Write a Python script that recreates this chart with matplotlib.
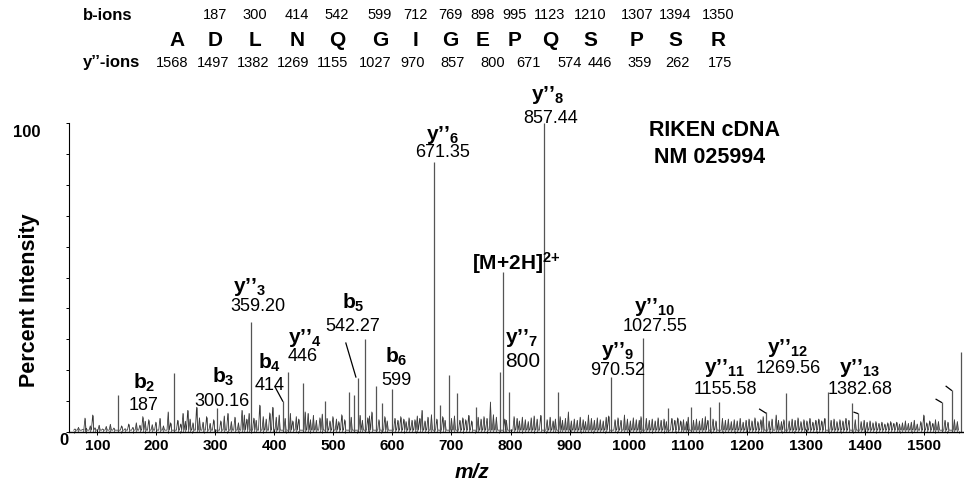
import matplotlib
matplotlib.use('Agg')
import matplotlib.pyplot as plt
from matplotlib.ticker import MultipleLocator

plt.rcParams['font.family'] = ['Liberation Sans', 'DejaVu Sans']
plt.rcParams['mathtext.fontset'] = 'custom'
plt.rcParams['mathtext.rm'] = 'Liberation Sans'
plt.rcParams['mathtext.bf'] = 'Liberation Sans:bold'
plt.rcParams['mathtext.it'] = 'Liberation Sans:italic'

# peptide header
residues = ['A', 'D', 'L', 'N', 'Q', 'G', 'I', 'G', 'E', 'P', 'Q', 'S', 'P', 'S', 'R']
b_ions = ['', '187', '300', '414', '542', '599', '712', '769', '898', '995',
          '1123', '1210', '1307', '1394', '1350']
y_ions = ['1568', '1497', '1382', '1269', '1155', '1027', '970', '857', '800',
          '671', '574', '446', '359', '262', '175']

# main peaks (m/z, % intensity)
peak_mz = [135, 230, 303, 360, 414, 423, 448, 485, 526, 534, 541, 553, 572, 582,
           599, 671, 680, 695, 710, 741, 783, 787, 798, 857, 880, 971, 1025, 1067,
           1105, 1138, 1154, 1233, 1267, 1338, 1379, 1389, 1531, 1548, 1563]
peak_pct = [12, 19, 7.8, 35.6, 10, 19.4, 16, 10, 13, 12, 17.5, 30, 15, 9.4,
            14, 87.4, 8.7, 18.4, 12.6, 8, 19.4, 51.8, 13, 100, 13, 17.8, 30.4, 7.8,
            8, 8, 9.7, 6.5, 12.6, 13, 9.4, 6, 9.7, 13.6, 26]

# small background peaks
noise_peaks = [
    (62, 1.0), (68, 1.5), (75, 0.8), (79, 4.5), (81, 1.2), (88, 2.0), (92, 5.5), (96, 1.4),
    (103, 2.2), (109, 1.0), (115, 1.8), (122, 2.5), (128, 1.3), (141, 2.0), (147, 1.1),
    (153, 2.6), (160, 1.5), (166, 3.0), (172, 2.2), (177, 5.0), (181, 3.5), (187, 4.0),
    (193, 2.4), (199, 3.2), (206, 4.4), (212, 2.0), (220, 6.5), (224, 3.0), (236, 3.8),
    (241, 2.6), (245, 6.0), (249, 3.5), (253, 7.0), (257, 4.2), (262, 3.0), (268, 8.0),
    (273, 4.6), (279, 3.2), (285, 5.0), (291, 2.8), (297, 4.0), (309, 3.6), (315, 5.2),
    (321, 6.0), (327, 3.4), (333, 4.8), (339, 3.0), (345, 7.0), (349, 5.5), (353, 4.2),
    (357, 6.0), (365, 4.5), (369, 3.8), (375, 8.7), (381, 5.0), (386, 4.2), (392, 6.2),
    (397, 8.0), (403, 4.8), (408, 5.5), (418, 4.4), (427, 6.0), (431, 3.6), (437, 5.0),
    (441, 4.2), (452, 6.5), (457, 6.0), (461, 4.0), (466, 5.4), (471, 3.8), (477, 4.6),
    (481, 5.8), (489, 4.4), (494, 3.6), (499, 5.0), (505, 4.2), (509, 3.4), (514, 5.6),
    (519, 4.0), (530, 4.8), (545, 5.4), (549, 3.8), (558, 4.6), (561, 5.2), (565, 6.5),
    (577, 4.0), (587, 5.0), (591, 3.6), (604, 4.4), (609, 3.8), (614, 5.0), (619, 4.2),
    (623, 3.4), (628, 4.6), (633, 3.8), (638, 4.0), (642, 5.2), (646, 4.4), (650, 7.0),
    (655, 3.6), (660, 4.8), (666, 5.6), (675, 4.2), (685, 5.0), (689, 3.8), (700, 4.4),
    (705, 5.2), (714, 3.8), (719, 4.6), (724, 4.0), (729, 5.4), (734, 3.6), (745, 4.8),
    (750, 4.2), (755, 5.0), (760, 4.4), (766, 9.7), (771, 5.6), (776, 4.8), (790, 4.2),
    (793, 3.8), (806, 5.0), (811, 4.4), (815, 3.6), (820, 4.8), (825, 4.0), (830, 3.4),
    (835, 4.6), (840, 5.2), (845, 4.2), (851, 5.4), (862, 4.0), (867, 4.8), (872, 3.6),
    (876, 4.2), (884, 5.0), (888, 3.8), (893, 4.4), (898, 6.5), (903, 3.6), (908, 4.2),
    (913, 3.8), (918, 4.8), (923, 4.0), (927, 3.4), (932, 5.5), (937, 4.4), (942, 3.8),
    (947, 4.6), (952, 4.0), (957, 3.6), (962, 4.8), (966, 5.2), (977, 4.0), (982, 4.6),
    (987, 3.8), (993, 5.5), (998, 4.2), (1003, 3.6), (1008, 4.6), (1013, 4.0), (1018, 3.8),
    (1021, 5.0), (1030, 4.4), (1035, 3.8), (1040, 4.2), (1045, 3.6), (1050, 4.6), (1055, 3.8),
    (1060, 4.2), (1064, 3.4), (1073, 4.4), (1078, 3.8), (1083, 4.6), (1088, 3.6), (1093, 4.0),
    (1098, 3.4), (1101, 4.8), (1110, 3.8), (1115, 4.2), (1120, 3.6), (1125, 4.4), (1130, 5.0),
    (1134, 3.8), (1143, 4.2), (1148, 3.6), (1159, 4.4), (1164, 3.8), (1169, 4.2), (1174, 3.4),
    (1179, 4.0), (1184, 3.6), (1189, 4.4), (1194, 3.2), (1199, 3.8), (1204, 4.2), (1209, 3.6),
    (1214, 4.6), (1219, 3.4), (1224, 4.0), (1228, 5.0), (1238, 3.6), (1243, 4.2), (1250, 5.5),
    (1254, 3.8), (1259, 3.4), (1263, 4.0), (1272, 3.6), (1277, 4.2), (1282, 3.8), (1287, 4.6),
    (1292, 3.4), (1297, 4.0), (1302, 3.6), (1307, 4.4), (1312, 3.2), (1317, 3.8), (1322, 4.2),
    (1327, 3.6), (1332, 4.4), (1343, 3.8), (1348, 4.2), (1353, 3.4), (1358, 4.0), (1363, 3.6),
    (1368, 4.4), (1373, 3.8), (1384, 4.0), (1394, 3.4), (1399, 3.8), (1404, 3.2), (1409, 3.6),
    (1414, 3.0), (1419, 3.4), (1424, 2.8), (1429, 3.2), (1434, 2.6), (1439, 3.0), (1444, 3.4),
    (1449, 2.8), (1454, 3.2), (1459, 2.6), (1464, 3.0), (1469, 3.6), (1474, 2.8), (1479, 3.2),
    (1484, 3.8), (1489, 2.6), (1495, 3.4), (1500, 5.5), (1505, 3.0), (1510, 3.6), (1515, 2.8),
    (1520, 4.0), (1525, 3.4), (1536, 3.8), (1541, 3.2), (1552, 4.0), (1557, 3.4),
]
noise_mz = [p[0] for p in noise_peaks]
noise_pct = [p[1] for p in noise_peaks]

# peak annotations: (ion, subscript, value, ion pos (mz, pct), value pos (mz, pct))
ann = [
    ('b', '2', '187', (179, 15.9), (179, 8.7)),
    ('b', '3', '300.16', (313, 17.8), (311, 10.0)),
    ("y’’", '3', '359.20', (358, 46.9), (372, 40.5)),
    ('b', '4', '414', (392, 22.3), (392, 15.2)),
    ("y’’", '4', '446', (451, 30.4), (448, 24.3)),
    ('b', '5', '542.27', (533, 41.7), (533, 34.0)),
    ('b', '6', '599', (607, 24.3), (607, 16.8)),
    ("y’’", '6', '671.35', (685, 96.1), (685, 90.3)),
    ("y’’", '7', '800', (819, 30.4), (820, 22.7)),
    ("y’’", '8', '857.44', (863, 109.0), (868, 101.6)),
    ("y’’", '9', '970.52', (981, 26.2), (981, 20.0)),
    ("y’’", '10', '1027.55', (1044, 40.5), (1045, 34.0)),
    ("y’’", '11', '1155.58', (1162, 20.7), (1164, 13.6)),
    ("y’’", '12', '1269.56', (1269, 27.2), (1271, 20.4)),
    ("y’’", '13', '1382.68', (1391, 20.7), (1393, 13.6)),
]

fig = plt.figure(figsize=(9.64, 4.87), dpi=100)
ax = fig.add_axes([0.0716, 0.1129, 0.927, 0.6345])

# background drawn as a jagged profile
prof_x, prof_y = [], []
for m, h in zip(noise_mz, noise_pct):
    prof_x += [m - 2, m, m + 2]
    prof_y += [0.6, h, 0.6]
ax.plot(prof_x, prof_y, color='#333333', lw=0.55)
ax.vlines(noise_mz, 0, noise_pct, color='#444444', lw=0.5)
ax.vlines(peak_mz, 0, peak_pct, color='#555555', lw=0.9)

ax.set_xlim(52, 1566)
ax.set_ylim(0, 100)
for s in ['top', 'right']:
    ax.spines[s].set_visible(False)
ax.spines['left'].set_linewidth(0.8)
ax.spines['bottom'].set_linewidth(1.0)

ax.xaxis.set_minor_locator(MultipleLocator(20))
ax.set_xticks(range(100, 1600, 100))
ax.set_xticklabels([str(v) for v in range(100, 1600, 100)], fontsize=11, fontweight='bold')
ax.tick_params(axis='x', which='major', direction='inout', length=4, width=0.7, pad=3)
ax.tick_params(axis='x', which='minor', direction='inout', length=2, width=0.5)
ax.set_yticks(range(0, 101, 10))
ax.set_yticklabels([])
ax.tick_params(axis='y', which='major', direction='out', length=2.5, width=0.7)

ax.text(-0.001, -0.026, '0', transform=ax.transAxes, ha='right', va='center',
        fontsize=12, fontweight='bold')
ax.text(-0.032, 0.97, '100', transform=ax.transAxes, ha='right', va='center',
        fontsize=12, fontweight='bold')

fig.text(30 / 964, 1 - 300 / 487, 'Percent Intensity', rotation=90, ha='center',
         va='center', fontsize=15.5, fontweight='bold')
fig.text(472 / 964, 1 - 472 / 487, 'm/z', ha='center', va='center', fontsize=15,
         fontweight='bold', fontstyle='italic')

for ion, sub, val, p1, p2 in ann:
    if ion == 'b':
        lab = r'$\mathbf{b}_{\mathbf{%s}}$' % sub
    else:
        lab = r'$\mathbf{y’’}_{\mathbf{%s}}$' % sub
    ax.text(p1[0], p1[1], lab, ha='center', va='center', fontsize=15, clip_on=False)
    fs = 15 if val == '800' else 13
    ax.text(p2[0], p2[1], val, ha='center', va='center', fontsize=fs, clip_on=False)

ax.text(810, 54.7, r'$\mathbf{[M{+}2H]}^{\mathbf{2{+}}}$', ha='center', va='center', fontsize=15)
ax.text(1145, 97.7, 'RIKEN cDNA', ha='center', va='center', fontsize=15.5, fontweight='bold')
ax.text(1137, 89.0, 'NM 025994', ha='center', va='center', fontsize=15.5, fontweight='bold')

# leader lines
leader = [((521, 28.8), (538, 17.8)), ((401, 14.6), (414, 10.0)),
          ((1222, 7.4), (1232, 6.2)), ((1382, 6.4), (1388, 6.0)),
          ((1521, 10.6), (1530, 9.6)), ((1538, 14.8), (1547, 13.5))]
for a, b in leader:
    ax.plot([a[0], b[0]], [a[1], b[1]], color='black', lw=0.9)

# header
col_x = [177, 215, 255, 297, 337, 380, 415, 450, 483, 515, 550, 590, 637, 675, 718]
yx = [172, 213, 253, 293, 333, 375, 413, 453, 493, 528, 570, 600, 640, 677, 720]
fig.text(83 / 964, 1 - 15 / 487, 'b-ions', ha='left', va='center', fontsize=12,
         fontweight='bold')
fig.text(83 / 964, 1 - 63 / 487, 'y’’-ions', ha='left', va='center', fontsize=12,
         fontweight='bold')
for i in range(len(residues)):
    fig.text(col_x[i] / 964, 1 - 40 / 487, residues[i], ha='center', va='center',
             fontsize=15, fontweight='bold')
    if b_ions[i]:
        fig.text(col_x[i] / 964, 1 - 15 / 487, b_ions[i], ha='center', va='center',
                 fontsize=10.5)
    fig.text(yx[i] / 964, 1 - 63 / 487, y_ions[i], ha='center', va='center', fontsize=10.5)

fig.savefig('out.png', dpi=100)
